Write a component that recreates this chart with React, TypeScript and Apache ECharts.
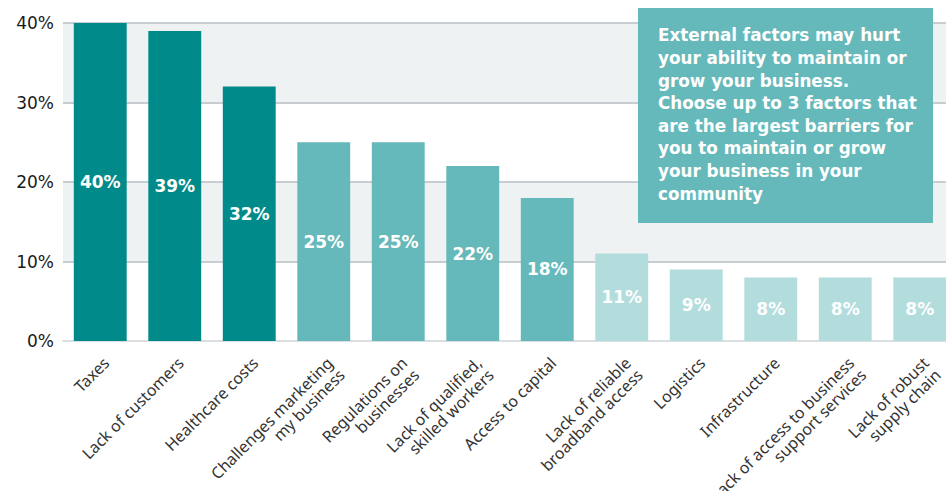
import React, { useEffect, useRef } from "react";
import * as echarts from "echarts";

const categories = [
  "Taxes",
  "Lack of customers",
  "Healthcare costs",
  "Challenges marketing\nmy business",
  "Regulations on\nbusinesses",
  "Lack of qualified,\nskilled workers",
  "Access to capital",
  "Lack of reliable\nbroadband access",
  "Logistics",
  "Infrastructure",
  "Lack of access to business\nsupport services",
  "Lack of robust\nsupply chain",
];
const values = [40, 39, 32, 25, 25, 22, 18, 11, 9, 8, 8, 8];
const tiers = [0, 0, 0, 1, 1, 1, 1, 2, 2, 2, 2, 2];
const tierColors = ["#008b8a", "#66b9bb", "#b3dddd"];
const yTicks = [0, 10, 20, 30, 40];
const noteLines = [
  "External factors may hurt",
  "your ability to maintain or",
  "grow your business.",
  "Choose up to 3 factors that",
  "are the largest barriers for",
  "you to maintain or grow",
  "your business in your",
  "community",
];

export default function App() {
  const ref = useRef<HTMLDivElement>(null);
  useEffect(() => {
    if (!ref.current) return;
    const chart = echarts.init(ref.current, null, { renderer: "svg" });
    chart.setOption({
      animation: false,
      grid: {
        left: 63,
        width: 894,
        top: 23,
        height: 318,
        containLabel: false,
        outerBoundsMode: "none",
      },
      xAxis: {
        type: "category",
        data: categories,
        axisTick: { show: false },
        axisLine: { show: true, lineStyle: { color: "#dcdfe1", width: 2 } },
        axisLabel: {
          rotate: 45,
          interval: 0,
          margin: 13,
          color: "#333",
          fontSize: 16,
          fontFamily: "Noto Sans",
          lineHeight: 17,
          verticalAlign: "top",
        },
      },
      yAxis: {
        type: "value",
        min: 0,
        max: yTicks[yTicks.length - 1],
        interval: 10,
        axisLine: { show: false },
        axisTick: { show: false },
        axisLabel: {
          formatter: "{value}%",
          color: "#1a1a1a",
          fontSize: 17,
          fontFamily: "DejaVu Sans",
          margin: 9,
        },
        splitLine: { show: true, lineStyle: { color: "#c8cdd1", width: 2 } },
        splitArea: { show: true, areaStyle: { color: ["#ffffff", "#eef2f3"] } },
      },
      series: [
        {
          type: "bar",
          data: values.map((v, i) => ({ value: v, itemStyle: { color: tierColors[tiers[i]] } })),
          barCategoryGap: "29%",
          label: {
            show: true,
            position: "inside",
            formatter: "{c}%",
            color: "#ffffff",
            fontSize: 17,
            fontWeight: "bold",
            fontFamily: "DejaVu Sans",
          },
          z: 2,
        },
      ],
      graphic: [
        {
          type: "rect",
          left: 638,
          top: 8,
          shape: { width: 295, height: 215 },
          style: { fill: "#66b9bb" },
          z: 10,
        },
        {
          type: "text",
          left: 658,
          top: 24,
          style: {
            text: noteLines.join("\n"),
            fill: "#ffffff",
            font: "bold 16.8px 'DejaVu Sans'",
            lineHeight: 22.6,
          },
          z: 11,
        },
      ],
    });
    return () => chart.dispose();
  }, []);
  return (
    <div
      ref={ref}
      style={{ position: "fixed", left: 0, top: 0, width: 946, height: 491, background: "#fff" }}
    />
  );
}
